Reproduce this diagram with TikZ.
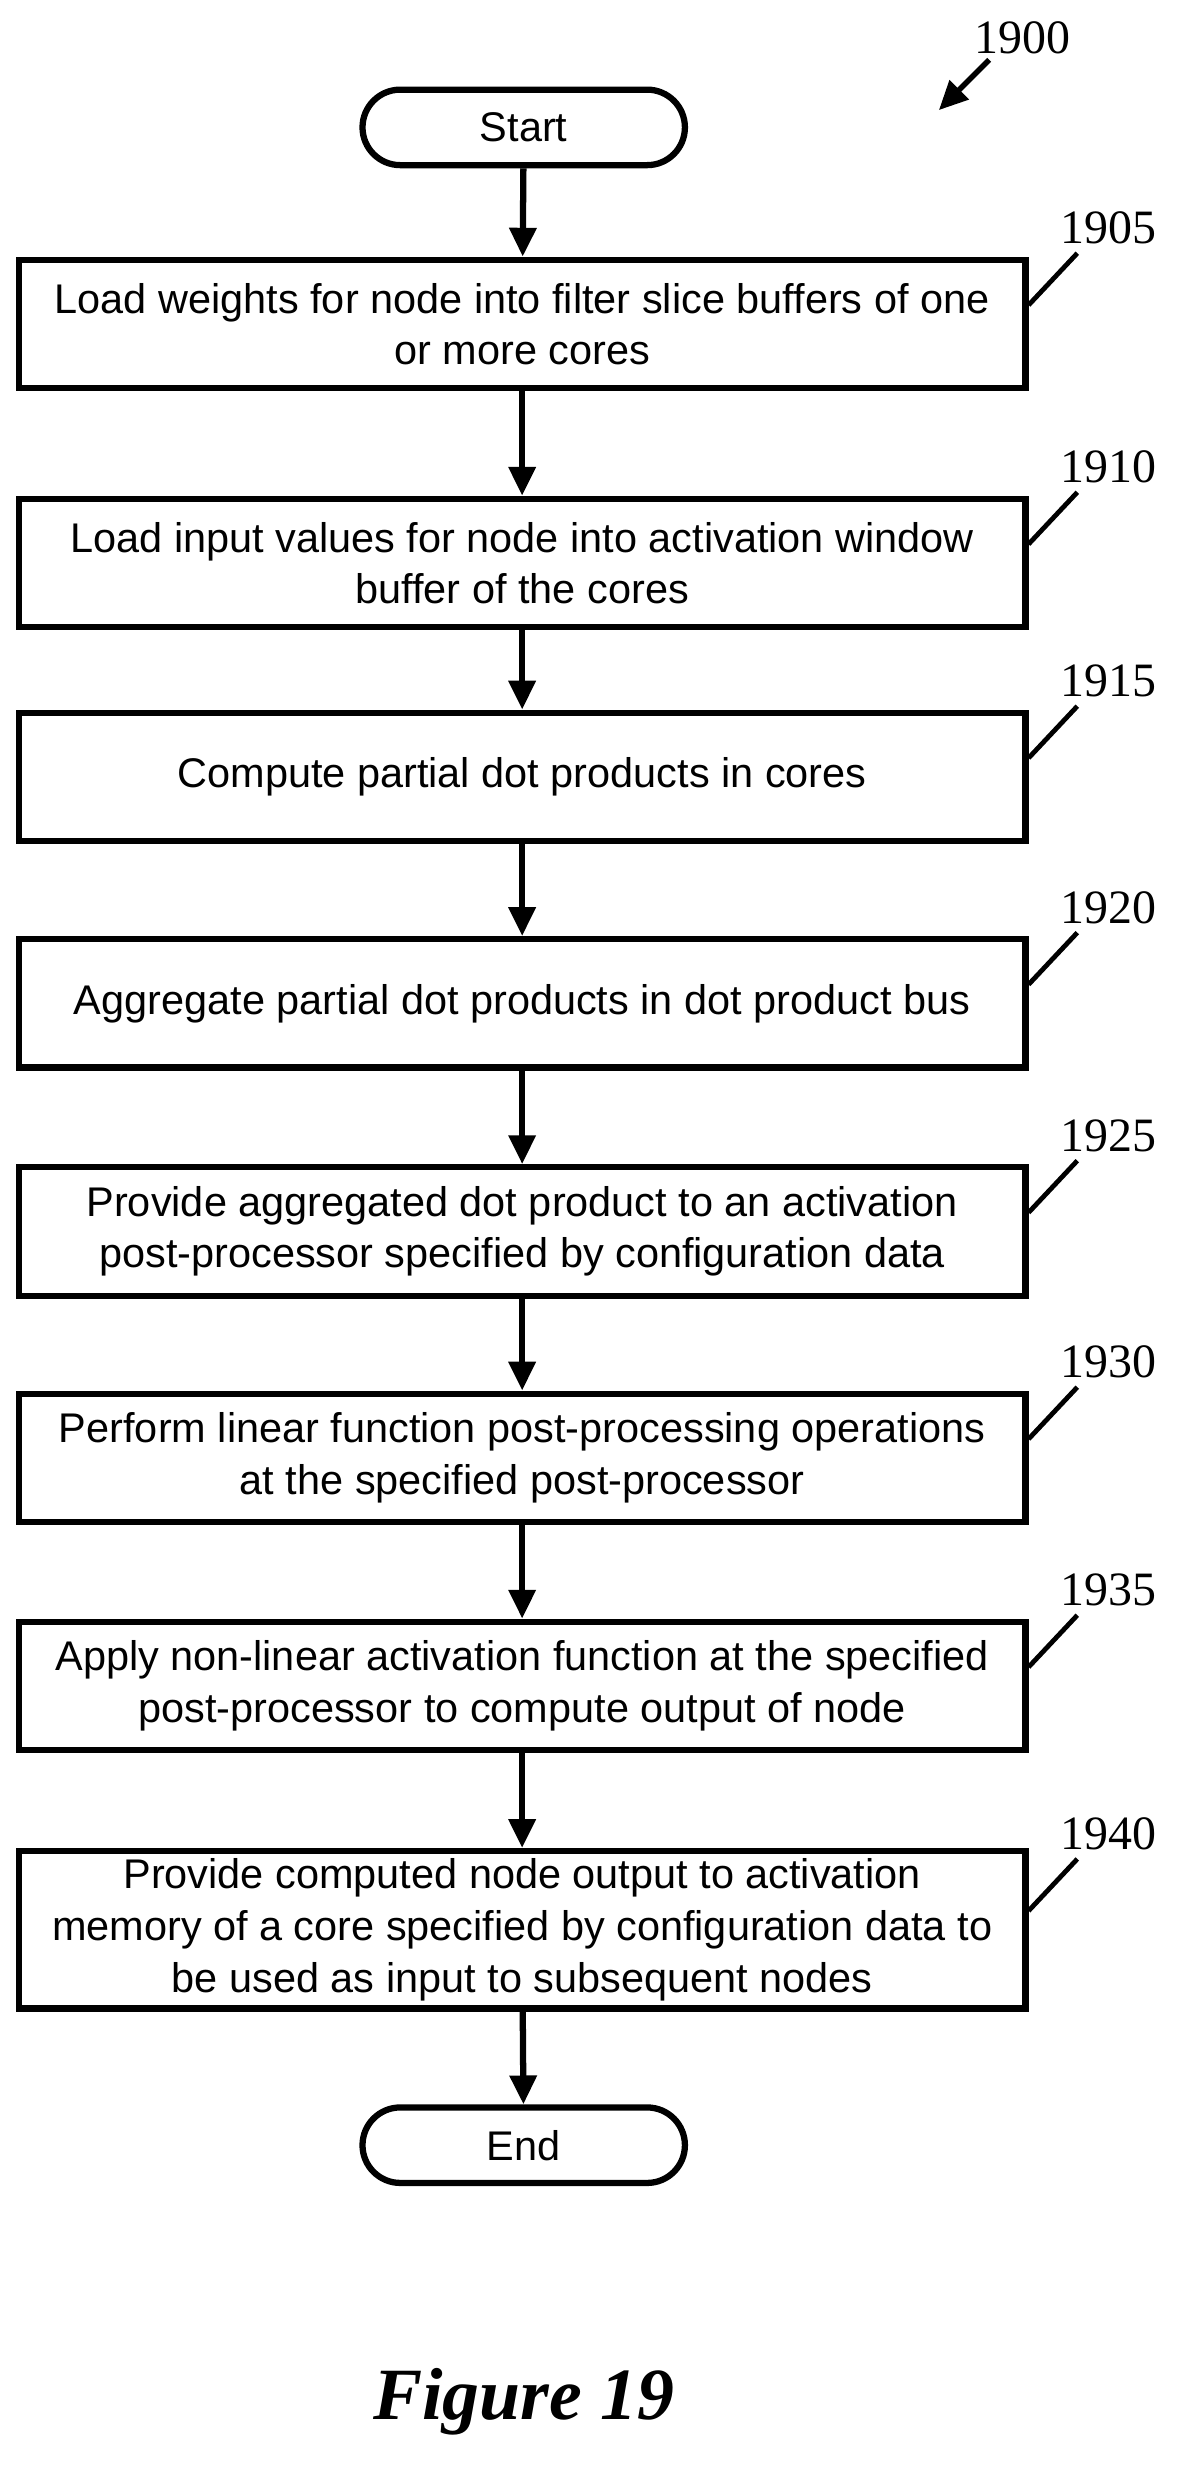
\documentclass[tikz,border=0pt]{standalone}
\usepackage{fontspec}
\setmainfont{Liberation Serif}
\setsansfont{Liberation Sans}
\usetikzlibrary{arrows.meta, positioning}

\begin{document}
\begin{tikzpicture}[
    x=0.03cm, y=-0.03cm,
    stepbox/.style={rectangle, draw, line width=3.4pt, minimum width=19.2cm, minimum height=2.45cm, align=center, font=\sffamily\fontsize{22.5}{28}\selectfont},
    term/.style={rectangle, draw, line width=3.4pt, rounded corners=0.72cm, minimum width=6.15cm, minimum height=1.44cm, font=\sffamily\fontsize{22.5}{28}\selectfont},
    ref/.style={font=\fontsize{26}{28}\selectfont},
    arrow/.style={-{Triangle[length=0.55cm, width=0.5cm]}, line width=3.4pt},
    tick/.style={line width=2.6pt}
]
    \useasboundingbox (0,0) rectangle (749,1568);

    % Terminals
    \node[term] (start) at (333,81) {Start};
    \node[term] (end) at (333,1364) {End};

    % Steps
    \node[stepbox] (s1905) at (332,206) {Load weights for node into filter slice buffers of one\\or more cores};
    \node[stepbox] (s1910) at (332,358) {Load input values for node into activation window\\buffer of the cores};
    \node[stepbox] (s1915) at (332,494) {Compute partial dot products in cores};
    \node[stepbox] (s1920) at (332,638) {Aggregate partial dot products in dot product bus};
    \node[stepbox] (s1925) at (332,783) {Provide aggregated dot product to an activation\\post-processor specified by configuration data};
    \node[stepbox] (s1930) at (332,927) {Perform linear function post-processing operations\\at the specified post-processor};
    \node[stepbox] (s1935) at (332,1072) {Apply non-linear activation function at the specified\\post-processor to compute output of node};
    \node[stepbox, minimum height=3cm] (s1940) at (332,1227) {Provide computed node output to activation\\memory of a core specified by configuration data to\\be used as input to subsequent nodes};

    % Arrows
    \draw[arrow] (start) -- (s1905);
    \draw[arrow] (s1905) -- (s1910);
    \draw[arrow] (s1910) -- (s1915);
    \draw[arrow] (s1915) -- (s1920);
    \draw[arrow] (s1920) -- (s1925);
    \draw[arrow] (s1925) -- (s1930);
    \draw[arrow] (s1930) -- (s1935);
    \draw[arrow] (s1935) -- (s1940);
    \draw[arrow] (s1940) -- (end);

    % Reference numerals
    \node[ref] (r1900) at (650,24) {1900};
    \coordinate (a1900) at (597,70);
    \draw[arrow, line width=3pt] (629,38) -- (a1900);
    \foreach \s/\y in {1905/206, 1910/358, 1915/494, 1920/638, 1925/783, 1930/927, 1935/1072, 1940/1227} {
        \node[ref] (r\s) at (705,\y-61) {\s};
        \draw[tick] (s\s.east |- 0,\y-12) -- (685,\y-45);
    }

    % Caption
    \node[font=\bfseries\itshape\fontsize{40}{44}\selectfont] (caption) at (333,1527) {Figure 19};
\end{tikzpicture}
\end{document}
